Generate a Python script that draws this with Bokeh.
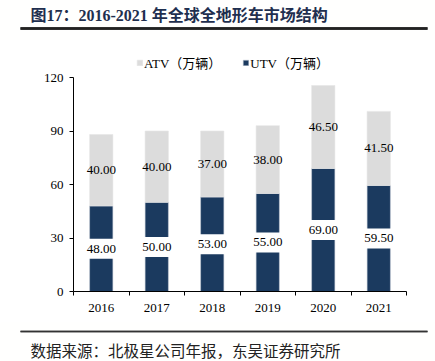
from bokeh.plotting import figure
from bokeh.layouts import column
from bokeh.models import (Range1d, FixedTicker, Legend, LegendItem, ColumnDataSource,
                          BoxAnnotation)
from bokeh.core.properties import value
from bokeh.embed import file_html
from bokeh.resources import INLINE

# ---- data ----
years = ["2016", "2017", "2018", "2019", "2020", "2021"]
utv = [48.00, 50.00, 53.00, 55.00, 69.00, 59.50]
atv = [40.00, 40.00, 37.00, 38.00, 46.50, 41.50]
y_ticks = [0, 30, 60, 90, 120]
title_text = "图17：2016-2021 年全球全地形车市场结构"
source_text = "数据来源：北极星公司年报，东吴证券研究所"
atv_name = "ATV（万辆）"
utv_name = "UTV（万辆）"

NAVY = "#1b3a5f"
GRAY = "#dcdcdc"
SERIF = "Liberation Serif, Noto Sans CJK SC"
W = 435
BG = "#fffffe"


def banner(h):
    f = figure(width=W, height=h, output_backend="svg", toolbar_location=None,
               x_range=Range1d(0, W), y_range=Range1d(h, 0),
               x_axis_type=None, y_axis_type=None, min_border=0)
    f.frame_align = False
    f.outline_line_color = BG
    f.background_fill_color = BG
    f.border_fill_color = BG
    return f


# ---------- header ----------
hdr = banner(40)
hdr.quad(left=[20], right=[427], top=[26.8], bottom=[29.3],
         fill_color="#222222", line_color=None)
hdr.add_layout(BoxAnnotation(left=20, right=427, top=26.8, bottom=29.3,
                             fill_color="#222222", fill_alpha=1, line_color=None))
hdr.scatter(x=[20, 427], y=[28, 28], size=2, fill_alpha=0, line_alpha=0)
hdr.text(x=[30], y=[15], text=[title_text], text_font=value(SERIF),
         text_font_size="16px", text_font_style="bold", text_color="#1f2f4f",
         text_baseline="middle", text_align="left")

# ---------- main chart ----------
xs = [i + 0.5 for i in range(len(years))]
total = [u + a for u, a in zip(utv, atv)]
src = ColumnDataSource(dict(
    x=xs, utv=utv, atv=atv, total=total,
    utv_mid=[u / 2 for u in utv],
    atv_mid=[u + a / 2 for u, a in zip(utv, atv)],
    utv_lbl=["%.2f" % u for u in utv],
    atv_lbl=["%.2f" % a for a in atv],
))

TOP, AX0, BOT = 40, 291, 322   # page y of main figure top, x-axis, main bottom
y_end = 120 * (AX0 - TOP) / (AX0 - 77)

p = figure(width=W, height=BOT - TOP, output_backend="svg", toolbar_location=None,
           x_range=Range1d(0, len(years)), y_range=Range1d(0, y_end),
           min_border_left=73, min_border_right=29, min_border_top=0,
           min_border_bottom=BOT - AX0)
p.frame_align = False
p.outline_line_color = None
p.xgrid.visible = False
p.ygrid.visible = False

r_utv = p.vbar(x="x", bottom=0, top="utv", width=0.42, source=src,
               fill_color=NAVY, line_color="#c9d0da", line_width=0.6)
r_atv = p.vbar(x="x", bottom="utv", top="total", width=0.42, source=src,
               fill_color=GRAY, line_color="#e6e6e6", line_width=0.6)

p.text(x="x", y="atv_mid", text="atv_lbl", source=src,
       text_font=value("Liberation Serif"), text_font_size="13px",
       text_align="center", text_baseline="middle", text_color="black")
p.text(x="x", y="utv_mid", text="utv_lbl", source=src,
       text_font=value("Liberation Serif"), text_font_size="13px",
       text_align="center", text_baseline="middle", text_color="black",
       background_fill_color="white", padding=(3, 6))

yax = p.yaxis[0]
yax.bounds = (0, 120)
yax.ticker = FixedTicker(ticks=y_ticks)
yax.axis_line_color = "black"
yax.major_tick_line_color = "black"
yax.major_tick_out = 4
yax.major_tick_in = 0
yax.minor_tick_line_color = None
yax.major_label_text_font = SERIF
yax.major_label_text_font_size = "13px"
yax.major_label_text_color = "black"
yax.major_label_standoff = 6

xax = p.xaxis[0]
xax.ticker = FixedTicker(ticks=xs, minor_ticks=list(range(len(years) + 1)))
xax.major_label_overrides = {x: y for x, y in zip(xs, years)}
xax.axis_line_color = "black"
xax.major_tick_out = 0
xax.major_tick_in = 0
xax.minor_tick_out = 4
xax.minor_tick_in = 0
xax.minor_tick_line_color = "black"
xax.major_label_text_font = SERIF
xax.major_label_text_font_size = "13px"
xax.major_label_text_color = "black"
xax.major_label_standoff = 8

legend = Legend(items=[LegendItem(label=atv_name, renderers=[r_atv]),
                       LegendItem(label=utv_name, renderers=[r_utv])],
                orientation="horizontal", location=(63, AX0 - 72),
                glyph_width=7, glyph_height=7, label_height=14,
                label_standoff=1, spacing=21, padding=0, margin=0,
                border_line_color=None, background_fill_alpha=0,
                label_text_font=SERIF, label_text_font_size="13px",
                label_text_color="black")
p.add_layout(legend, "center")

# ---------- footer ----------
ftr = banner(361 - BOT)
ftr.quad(left=[20], right=[427], top=[330.2 - BOT], bottom=[331.8 - BOT],
         fill_color="#333333", line_color=None)
ftr.add_layout(BoxAnnotation(left=20, right=427, top=330.2 - BOT, bottom=331.8 - BOT,
                             fill_color="#333333", fill_alpha=1, line_color=None))
ftr.scatter(x=[20, 427], y=[331 - BOT, 331 - BOT], size=2, fill_alpha=0, line_alpha=0)
ftr.text(x=[30], y=[349 - BOT], text=[source_text],
         text_font=value("Noto Sans CJK SC"), text_font_size="15.5px",
         text_color="#222222", text_baseline="middle", text_align="left")

layout = column(hdr, p, ftr, spacing=0)
open("out.html", "w").write(file_html(layout, INLINE))
